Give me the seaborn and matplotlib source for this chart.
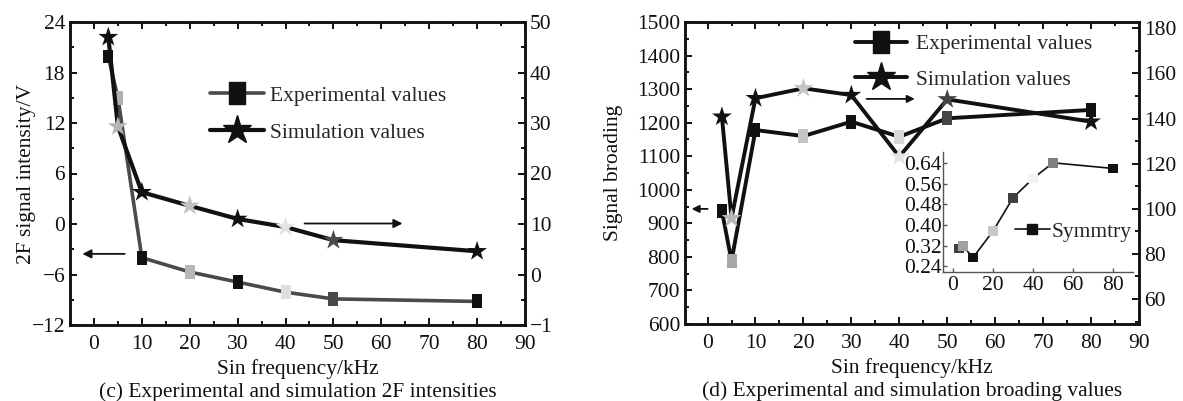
import matplotlib
matplotlib.use("Agg")
import matplotlib.pyplot as plt
import seaborn as sns
from matplotlib.lines import Line2D
from matplotlib.path import Path
from matplotlib.ticker import MultipleLocator, FixedLocator, FixedFormatter

# ---------------- data ----------------
freq = [3, 5, 10, 20, 30, 40, 50, 80]

# panel (c)
c_exp = [19.9, 15.0, -4.0, -5.7, -6.9, -8.1, -8.9, -9.2]
c_sim = [47.0, 29.3, 16.3, 13.6, 11.0, 9.4, 6.8, 4.6]
c_exp_colors = ["#111111", "#b0b0b0", "#111111", "#b8b8b8", "#111111", "#dedede", "#4a4a4a", "#111111"]
c_sim_colors = ["#111111", "#b5b5b5", "#111111", "#c0c0c0", "#111111", "#e2e2e2", "#4a4a4a", "#111111"]

# panel (d)
d_exp = [937, 788, 1178, 1160, 1203, 1158, 1213, 1238]
d_sim = [140.8, 95.8, 149.0, 153.4, 150.4, 123.1, 148.5, 138.6]
d_exp_colors = ["#111111", "#a8a8a8", "#111111", "#c4c4c4", "#111111", "#d8d8d8", "#454545", "#111111"]
d_sim_colors = ["#111111", "#b8b8b8", "#111111", "#c4c4c4", "#111111", "#e4e4e4", "#454545", "#111111"]

# inset of (d)
sym = [0.308, 0.318, 0.273, 0.376, 0.506, 0.581, 0.642, 0.620]
sym_colors = ["#404040", "#a0a0a0", "#111111", "#c8c8c8", "#404040", "#f2f2f2", "#808080", "#111111"]

c_right_ticks = [-10, 0, 10, 20, 30, 40, 50]
c_right_labels = ["\u22121", "0", "10", "20", "30", "40", "50"]
inset_yticks = [0.24, 0.32, 0.40, 0.48, 0.56, 0.64]
inset_ylabels = ["0.24", "0.32", "0.40", "0.48", "0.56", "0.64"]

# ---------------- style ----------------
FS = 15.5
CAP = 15.4
sns.set_theme(style="ticks")
plt.rcParams["font.family"] = ["Liberation Serif", "DejaVu Serif"]
plt.rcParams["font.size"] = FS
plt.rcParams["axes.unicode_minus"] = True

W, H = 1183, 401
fig = plt.figure(figsize=(W / 100, H / 100), dpi=100)
fig.patch.set_facecolor("white")


def frac(l, t, r, b):
    return [l / W, (H - b) / H, (r - l) / W, (b - t) / H]


rect = Path([(-0.72, -1), (0.72, -1), (0.72, 1), (-0.72, 1), (-0.72, -1)],
            [Path.MOVETO, Path.LINETO, Path.LINETO, Path.LINETO, Path.CLOSEPOLY])


def style_ax(ax):
    for s in ax.spines.values():
        s.set_linewidth(1.8)
        s.set_color("#111111")
    ax.tick_params(which="both", direction="in", colors="#111111", labelsize=FS,
                   labelcolor="#111111", width=1.4)
    ax.tick_params(which="major", length=5)
    ax.tick_params(which="minor", length=3)
    ax.tick_params(axis="x", pad=7)
    ax.grid(False)
    ax.set_facecolor("none")


def markers(ax, x, y, colors, marker, size):
    ids = [str(i) for i in range(len(x))]
    sns.scatterplot(x=x, y=y, hue=ids, palette=dict(zip(ids, colors)), marker=marker,
                    s=size ** 2, edgecolor="none", linewidth=0, legend=False, ax=ax, zorder=5)


# ================= panel (c) =================
ax1 = fig.add_axes(frac(70, 22, 525, 325))
ax2 = ax1.twinx()
sns.lineplot(x=freq, y=c_exp, sort=False, estimator=None, color="#4a4a4a", lw=2.6, ax=ax1)
markers(ax1, freq, c_exp, c_exp_colors, rect, 10)
sns.lineplot(x=freq, y=c_sim, sort=False, estimator=None, color="#111111", lw=3.0, ax=ax2)
markers(ax2, freq, c_sim, c_sim_colors, "*", 15)

ax1.set_xlim(-5, 90)
ax1.set_ylim(-12, 24)
ax2.set_ylim(-10, 50)
ax1.xaxis.set_major_locator(MultipleLocator(10))
ax1.xaxis.set_minor_locator(MultipleLocator(5))
ax1.yaxis.set_major_locator(MultipleLocator(6))
ax1.yaxis.set_minor_locator(MultipleLocator(3))
ax2.yaxis.set_major_locator(FixedLocator(c_right_ticks))
ax2.yaxis.set_major_formatter(FixedFormatter(c_right_labels))
ax2.yaxis.set_minor_locator(MultipleLocator(5))
for a in (ax1, ax2):
    style_ax(a)
ax1.tick_params(which="both", top=True, labeltop=False)
ax1.set_xlabel("Sin frequency/kHz", fontsize=FS, color="#111111", labelpad=4)
ax1.set_ylabel("2F signal intensity/V", fontsize=FS, color="#111111", labelpad=-3)
ax1.text(0.5, -0.222, "(c) Experimental and simulation 2F intensities", transform=ax1.transAxes,
         ha="center", va="center", fontsize=CAP, color="#111111")

ax1.annotate("", xy=(-3, -3.55), xytext=(7, -3.55),
             arrowprops=dict(arrowstyle="-|>", color="#111111", lw=1.3, mutation_scale=13))
ax2.annotate("", xy=(65, 10.1), xytext=(43.4, 10.1),
             arrowprops=dict(arrowstyle="-|>", color="#111111", lw=1.3, mutation_scale=13))

h1 = [Line2D([], [], color="#4a4a4a", lw=2.6, marker=rect, ms=16, mfc="#111111", mec="#111111"),
      Line2D([], [], color="#111111", lw=3.0, marker="*", ms=21, mfc="#111111", mec="#111111")]
ax2.legend(h1, ["Experimental values", "Simulation values"], loc="upper left",
           bbox_to_anchor=(0.307, 0.79), frameon=False, fontsize=FS, borderpad=0,
           handlelength=2.5, handletextpad=0.3, labelspacing=0.8, borderaxespad=0)

# ================= panel (d) =================
bx1 = fig.add_axes(frac(685, 22, 1139, 324))
bx2 = bx1.twinx()
sns.lineplot(x=freq, y=d_exp, sort=False, estimator=None, color="#111111", lw=2.8, ax=bx1)
markers(bx1, freq, d_exp, d_exp_colors, rect, 10)
sns.lineplot(x=freq, y=d_sim, sort=False, estimator=None, color="#111111", lw=2.8, ax=bx2)
markers(bx2, freq, d_sim, d_sim_colors, "*", 15)

bx1.set_xlim(-4.7, 90)
bx1.set_ylim(600, 1500)
bx2.set_ylim(48.9, 182.8)
bx1.xaxis.set_major_locator(MultipleLocator(10))
bx1.xaxis.set_minor_locator(MultipleLocator(5))
bx1.yaxis.set_major_locator(MultipleLocator(100))
bx1.yaxis.set_minor_locator(MultipleLocator(50))
bx2.yaxis.set_major_locator(MultipleLocator(20))
bx2.yaxis.set_minor_locator(MultipleLocator(10))
for a in (bx1, bx2):
    style_ax(a)
bx1.tick_params(which="both", top=True, labeltop=False)
bx1.set_xlabel("Sin frequency/kHz", fontsize=FS, color="#111111", labelpad=4)
bx1.set_ylabel("Signal broading", fontsize=FS, color="#111111", labelpad=10)
bx1.text(0.5, -0.222, "(d) Experimental and simulation broading values", transform=bx1.transAxes,
         ha="center", va="center", fontsize=CAP, color="#111111")

bx1.annotate("", xy=(-3.9, 943), xytext=(0.6, 943),
             arrowprops=dict(arrowstyle="-|>", color="#111111", lw=1.3, mutation_scale=11))
bx2.annotate("", xy=(43.8, 148.7), xytext=(32.6, 148.7),
             arrowprops=dict(arrowstyle="-|>", color="#111111", lw=1.3, mutation_scale=11))

h2 = [Line2D([], [], color="#111111", lw=2.8, marker=rect, ms=16, mfc="#111111", mec="#111111"),
      Line2D([], [], color="#111111", lw=2.8, marker="*", ms=21, mfc="#111111", mec="#111111")]
bx2.legend(h2, ["Experimental values", "Simulation values"], loc="upper left",
           bbox_to_anchor=(0.375, 0.96), frameon=False, fontsize=FS, borderpad=0,
           handlelength=2.4, handletextpad=0.4, labelspacing=0.72, borderaxespad=0)

# ---------------- inset ----------------
ix = fig.add_axes(frac(943, 152, 1133, 272))
sns.lineplot(x=freq, y=sym, sort=False, estimator=None, color="#111111", lw=1.2, ax=ix)
markers(ix, freq, sym, sym_colors, "s", 7)
ix.set_xlim(-5, 90)
ix.set_ylim(0.217, 0.684)
ix.xaxis.set_major_locator(MultipleLocator(20))
ix.yaxis.set_major_locator(FixedLocator(inset_yticks))
ix.yaxis.set_major_formatter(FixedFormatter(inset_ylabels))
for s in ("top", "right"):
    ix.spines[s].set_visible(False)
for s in ("left", "bottom"):
    ix.spines[s].set_linewidth(1.0)
    ix.spines[s].set_color("#555555")
ix.tick_params(direction="in", length=3, width=1.0, colors="#555555", labelsize=FS,
               labelcolor="#111111", pad=1)
ix.tick_params(axis="x", pad=3)
ix.set_facecolor("none")
ix.grid(False)
hi = [Line2D([], [], color="#111111", lw=1.2, marker="s", ms=7, mfc="#111111", mec="#111111")]
ix.legend(hi, ["Symmtry"], loc="upper left", bbox_to_anchor=(0.38, 0.42), frameon=False,
          fontsize=FS, borderpad=0, handlelength=1.6, handletextpad=0.1, borderaxespad=0)

fig.savefig("out.png", dpi=100, facecolor="white")
